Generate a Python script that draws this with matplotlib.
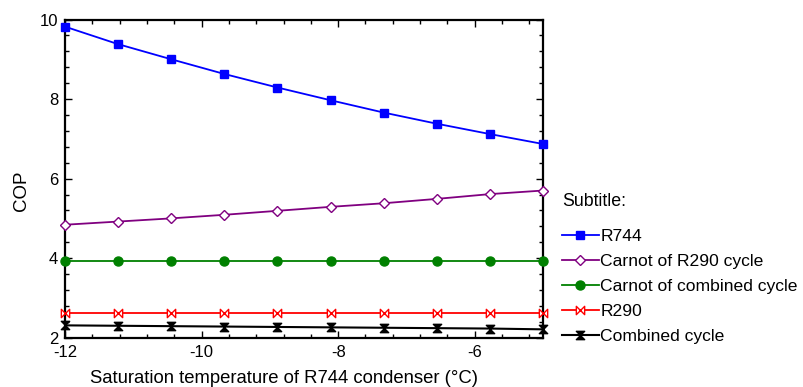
"""
COP vs saturation temperature of R744 condenser
"""
import numpy as np
import matplotlib
matplotlib.use('Agg')
import matplotlib.pyplot as plt
from matplotlib.path import Path
from matplotlib.ticker import MultipleLocator

plt.rcParams['font.family'] = ['Liberation Sans', 'DejaVu Sans']
plt.rcParams['axes.unicode_minus'] = False

# 数据
t_cond = np.linspace(-12, -5, 10)
cop_r744 = [9.82, 9.38, 9.00, 8.63, 8.29, 7.97, 7.66, 7.38, 7.12, 6.87]
cop_carnot_r290 = [4.84, 4.92, 5.00, 5.09, 5.19, 5.29, 5.38, 5.49, 5.61, 5.70]
cop_carnot_comb = [3.92] * 10
cop_r290 = [2.62] * 10
cop_comb = [2.31, 2.30, 2.29, 2.28, 2.27, 2.26, 2.25, 2.24, 2.23, 2.21]

labels = ['R744', 'Carnot of R290 cycle', 'Carnot of combined cycle', 'R290', 'Combined cycle']

# 自定义标记：横向蝴蝶结和沙漏
bowtie = Path([(-1, 1), (-1, -1), (1, 1), (1, -1), (-1, 1)],
              [Path.MOVETO, Path.LINETO, Path.LINETO, Path.LINETO, Path.CLOSEPOLY])
hourglass = Path([(-1, 1), (1, 1), (-1, -1), (1, -1), (-1, 1)],
                 [Path.MOVETO, Path.LINETO, Path.LINETO, Path.LINETO, Path.CLOSEPOLY])

fig = plt.figure(figsize=(8.04, 3.87), dpi=100)
ax = fig.add_axes([0.0809, 0.1274, 0.5945, 0.8222])

ax.plot(t_cond, cop_r744, color='#0000ff', lw=1.3, marker='s', ms=5.5,
        mfc='#0000ff', mec='#0000ff', label=labels[0], clip_on=False, zorder=5)
ax.plot(t_cond, cop_carnot_r290, color='#800080', lw=1.3, marker='D', ms=5,
        mfc='white', mec='#800080', mew=1.0, label=labels[1], clip_on=False, zorder=5)
ax.plot(t_cond, cop_carnot_comb, color='#008000', lw=1.3, marker='o', ms=6.5,
        mfc='#008000', mec='#008000', label=labels[2], clip_on=False, zorder=5)
ax.plot(t_cond, cop_r290, color='#ff0000', lw=1.3, marker=bowtie, ms=6,
        mfc='white', mec='#ff0000', mew=1.0, label=labels[3], clip_on=False, zorder=5)
ax.plot(t_cond, cop_comb, color='#000000', lw=1.5, marker=hourglass, ms=6,
        mfc='#000000', mec='#000000', label=labels[4], clip_on=False, zorder=5)

ax.set_xlim(-12, -5)
ax.set_ylim(2, 10)
ax.xaxis.set_major_locator(MultipleLocator(2))
ax.xaxis.set_minor_locator(MultipleLocator(0.4))
ax.yaxis.set_major_locator(MultipleLocator(2))
ax.yaxis.set_minor_locator(MultipleLocator(0.4))
ax.tick_params(which='both', direction='in', top=True, right=True, labelsize=12,
               width=1.0, pad=5)
ax.tick_params(which='major', length=5)
ax.tick_params(which='minor', length=3)
for sp in ax.spines.values():
    sp.set_linewidth(1.6)

ax.set_xlabel('Saturation temperature of R744 condenser (°C)', fontsize=13.3, va='center')
ax.xaxis.set_label_coords(0.458, -0.127)
ax.set_ylabel('COP', fontsize=13.5, va='center')
ax.yaxis.set_label_coords(-0.0906, 0.462)

leg = fig.legend(loc='upper left', bbox_to_anchor=(0.699, 0.502), frameon=False,
                 title='Subtitle:', fontsize=12.6, title_fontsize=12.8,
                 handlelength=2.1, handletextpad=0.1, labelspacing=0.55,
                 borderaxespad=0, borderpad=0)
leg._legend_box.align = 'left'
leg._legend_box.sep = 14

fig.savefig('out.png', dpi=100)
